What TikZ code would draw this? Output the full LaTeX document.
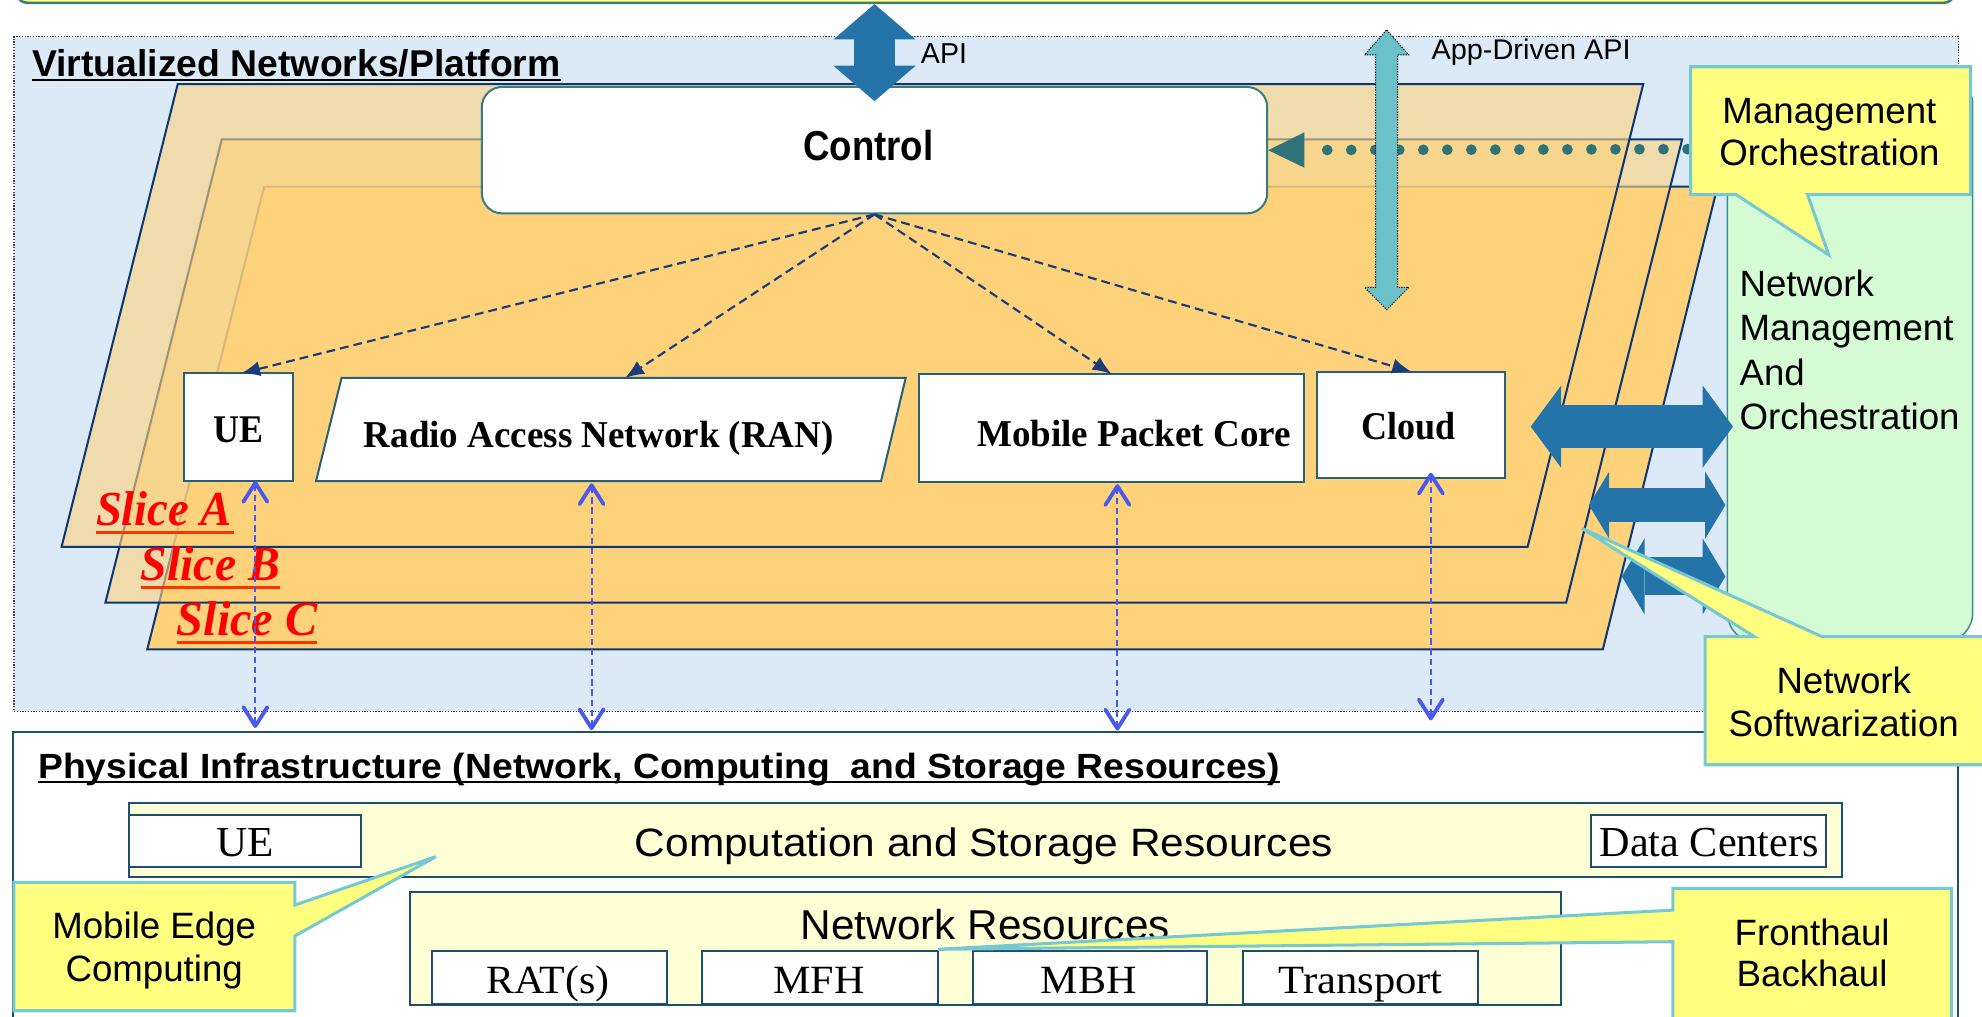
\documentclass[tikz,border=0pt]{standalone}
\usepackage{fontspec}
\setmainfont{Liberation Serif}
\setsansfont{Liberation Sans}
\usepackage{graphicx}
\usetikzlibrary{arrows.meta,calc}
\definecolor{bgblue}{HTML}{DBEAF6}
\definecolor{slicefill}{HTML}{FDD27A}
\definecolor{navy}{HTML}{0D3677}
\definecolor{boxline}{HTML}{26607A}
\definecolor{ctlline}{HTML}{3A7A82}
\definecolor{dashnavy}{HTML}{1C3B7A}
\definecolor{vblue}{HTML}{4859F0}
\definecolor{bigblue}{HTML}{2574A9}
\definecolor{appteal}{HTML}{6BC1C9}
\definecolor{dotteal}{HTML}{2F7378}
\definecolor{cyellow}{HTML}{FFFF80}
\definecolor{cline}{HTML}{76C8D2}
\definecolor{mint}{HTML}{D5FBD5}
\definecolor{mintline}{HTML}{3E8B8B}
\definecolor{paleyel}{HTML}{FFFFD6}
\definecolor{physline}{HTML}{1C4E6E}
\definecolor{slicered}{HTML}{FF0000}
\definecolor{ulred}{HTML}{FF3300}
\definecolor{topline}{HTML}{3D7A7A}
\newcommand\FW[2]{\resizebox{#1pt}{\height}{#2}}
\begin{document}
\begin{tikzpicture}[x=1pt,y=-1pt,
 txt/.style={inner sep=0pt,outer sep=0pt,anchor=base west},
 ctx/.style={inner sep=0pt,outer sep=0pt,anchor=base},
 sfb/.style={font=\fontsize{#1}{#1}\selectfont\sffamily\bfseries},
 sfr/.style={font=\fontsize{#1}{#1}\selectfont\sffamily},
 rmb/.style={font=\fontsize{#1}{#1}\selectfont\rmfamily\bfseries},
 rmr/.style={font=\fontsize{#1}{#1}\selectfont\rmfamily},
 rmbi/.style={font=\fontsize{#1}{#1}\selectfont\rmfamily\bfseries\itshape,text=slicered},
 box/.style={draw=boxline,line width=1.6pt,fill=white,inner sep=0pt,outer sep=0pt,anchor=north west},
 pbox/.style={draw=physline,line width=1.6pt,fill=white,inner sep=0pt,outer sep=0pt,anchor=north west},
 slice/.style={draw=navy,line width=1.6pt,fill=slicefill,line join=miter},
 callout/.style={draw=cline,line width=2.4pt,fill=cyellow,line join=miter},
 ctrlarrow/.style={draw=dashnavy,line width=1.7pt,dash pattern=on 7pt off 4pt,arrows={-Latex[length=15pt,width=12pt]}},
 vlink/.style={draw=vblue,line width=1.6pt,dash pattern=on 5pt off 3pt,arrows={Straight Barb[length=15pt,width=19pt,line width=3pt,round]-Straight Barb[length=15pt,width=19pt,line width=3pt,round]}},
 bigarr/.style n args={3}{draw=bigblue,line width=#1pt,arrows={Triangle[length=#3pt,width=#2pt,line width=0pt]-Triangle[length=#3pt,width=#2pt,line width=0pt]}},
 mgdots/.style={draw=dotteal,line width=8.5pt,line cap=round,dash pattern=on 0pt off 19pt,arrows={-Triangle[length=28.6pt,width=28pt,line width=0pt]}},
 appar/.style={fill=appteal,draw=black,line width=0.8pt,dash pattern=on 1pt off 1pt},
 ul/.style={draw=black,line width=2pt},
 ulr/.style={draw=ulred,line width=2.4pt}
]
\useasboundingbox (0,0) rectangle (1568,804);
\clip (0,0) rectangle (1568,804);
\fill[white] (0,0) rectangle (1568,804);

% top bar
\node[draw=topline,fill=cyellow,line width=2pt,rounded corners=8pt,minimum width=1532.6pt,minimum height=60pt,anchor=south west,inner sep=0pt] (topbar) at (12.4,3.2) {};

% virtualized platform
\node[draw=black!75,fill=bgblue,line width=0.9pt,dash pattern=on 1pt off 1.2pt,minimum width=1538.4pt,minimum height=534pt,anchor=north west,inner sep=0pt] (virt) at (10.6,28.5) {};

% slices
\filldraw[slice] (209,147.7) -- (1358.7,147.7) -- (1268,513.8) -- (116.5,513.8) -- cycle;
\filldraw[slice,fill opacity=0.6] (175.5,110.2) -- (1330.8,110.2) -- (1239,476.7) -- (83.4,476.7) -- cycle;
\filldraw[slice,fill opacity=0.6] (140.6,66.5) -- (1300,66.5) -- (1208.5,432.7) -- (48.7,432.7) -- cycle;

\node[txt,rmbi=38.7] (slA) at (76,416) {\FW{107.5}{Slice A}};
\draw[ulr] ($(slA.base west)+(0,5.6)$) -- ($(slA.base east)+(2,5.6)$);
\node[txt,rmbi=38.7] (slB) at (111.5,458.9) {\FW{110}{Slice B}};
\draw[ulr] ($(slB.base west)+(0,5.8)$) -- ($(slB.base east)+(0,5.8)$);
\node[txt,rmbi=38.7] (slC) at (140,502.4) {\FW{111}{Slice C}};
\draw[ulr] ($(slC.base west)+(0,5.8)$) -- ($(slC.base east)+(0,5.8)$);

% control and virtual functions
\node[draw=ctlline,fill=white,line width=1.6pt,rounded corners=16pt,minimum width=621.3pt,minimum height=100pt,anchor=north west,inner sep=0pt] (ctrl) at (380.4,68) {};
\node[txt,sfb=33.1] (ctrlT) at (635.5,126.6) {\FW{103}{Control}};

\node[box,minimum width=86.5pt,minimum height=85.1pt] (ue) at (145.5,295.4) {};
\node[txt,rmb=31] (ueT) at (168.7,350) {\FW{39.5}{UE}};
\filldraw[draw=boxline,fill=white,line width=1.6pt,line join=miter] (270.2,299) -- (716.5,299) -- (697,380.7) -- (250,380.7) -- cycle;
\coordinate (ranN) at (494.5,299);
\coordinate (ranS) at (468,382.4);
\node[txt,rmb=30] (ranT) at (287.8,354.2) {\FW{371.8}{Radio Access Network (RAN)}};
\node[box,minimum width=303.9pt,minimum height=85.4pt] (mpc) at (727.4,295.9) {};
\node[txt,rmb=30] (mpcT) at (773,352.9) {\FW{248.3}{Mobile Packet Core}};
\node[box,minimum width=149pt,minimum height=84.5pt] (cloud) at (1042,294) {};
\node[txt,rmb=31] (cloudT) at (1076.8,348) {\FW{74.5}{Cloud}};

\draw[ctrlarrow] (ctrl.south) -- ([xshift=2pt]ue.north);
\draw[ctrlarrow] (ctrl.south) -- (ranN);
\draw[ctrlarrow] (ctrl.south) -- (mpc.north);
\draw[ctrlarrow] (ctrl.south) -- (cloud.north);

% management and orchestration column
\node[draw=mintline,fill=mint,line width=1.2pt,rounded corners=24pt,minimum width=194pt,minimum height=450pt,anchor=north west,inner sep=0pt] (nmo) at (1366,58) {};
\node[txt,sfr=29] (nmo1) at (1376.2,234.7) {Network};
\node[txt,sfr=29] (nmo2) at (1376.2,269.5) {Management};
\node[txt,sfr=29] (nmo3) at (1376.2,304.6) {And};
\node[txt,sfr=29] (nmo4) at (1376.2,339.5) {Orchestration};

\coordinate (moW) at (1335,118);
\draw[mgdots] (moW) -- (ctrl.east);

% app-driven API
\coordinate (appT) at (1097,23.7);
\coordinate (appB) at (1097,245);
\draw[appar] (appT) -- ++(17.5,19.8) -- ++(-8.8,0) -- ($(appB)+(8.7,-17.7)$) -- ++(8.8,0) -- (appB) -- ++(-17.5,-17.7) -- ++(8.8,0) -- ($(appT)+(-8.7,19.8)$) -- ++(-8.8,0) -- cycle;
\node[txt,sfr=22.5] (appL) at (1132.5,47) {\FW{157.6}{App-Driven API}};

% API
\draw[bigarr={31.7}{65}{28}] (topbar.south -| ctrl.north) -- ([yshift=-12pt]ctrl.north);
\node[txt,sfr=22.8] (apiL) at (728.6,50.6) {\FW{36.4}{API}};

\node[txt,sfb=29.5] (virtT) at (25.6,60.6) {\FW{418}{Virtualized Networks/Platform}};
\draw[ul] ($(virtT.base west)+(0,2.8)$) -- ($(virtT.base east)+(0,2.8)$);

% big arrows to management
\coordinate (a1l) at (1211,337.5); \coordinate (a1r) at (1371,337.5);
\coordinate (a2l) at (1257,399.6); \coordinate (a2r) at (1365,399.6);
\coordinate (a3l) at (1283,456); \coordinate (a3r) at (1365,456);
\draw[bigarr={34}{65}{24}] (a1l) -- (a1r);
\draw[bigarr={26.7}{53}{16}] (a2l) -- (a2r);
\draw[bigarr={30}{60}{18}] (a3l) -- (a3r);

% management orchestration callout
\filldraw[callout] (1337.5,52.8) -- (1559,52.8) -- (1559,154) -- (1430,154) -- (1446.8,201.7) -- (1373.5,154) -- (1337.5,154) -- cycle;
\node[ctx,sfr=29] (mo1) at (1447.3,97.6) {Management};
\node[ctx,sfr=29] (mo2) at (1447.3,131) {Orchestration};

% physical infrastructure
\node[pbox,minimum width=1539.1pt,minimum height=260pt] (phys) at (9.9,578.9) {};
\node[txt,sfb=27.7] (physT) at (30.3,615.8) {\FW{982.3}{Physical Infrastructure (Network, Computing~ and Storage Resources)}};
\draw[ul] ($(physT.base west)+(0,2.8)$) -- ($(physT.base east)+(0,2.8)$);

\node[pbox,fill=paleyel,minimum width=1355.1pt,minimum height=58.5pt] (comp) at (101.9,635.5) {};
\node[pbox,minimum width=183.7pt,minimum height=40.8pt] (uep) at (101.9,644.8) {};
\node[txt,rmr=33.8] (uepT) at (171.6,677.7) {\FW{45.4}{UE}};
\node[txt,sfr=31.3] (compT) at (502.2,677.7) {\FW{552.3}{Computation and Storage Resources}};
\node[pbox,minimum width=185.8pt,minimum height=40.8pt] (dc) at (1259,644.8) {};
\node[txt,rmr=33.8] (dcT) at (1265.5,677.7) {\FW{173.4}{Data Centers}};

\node[pbox,fill=paleyel,minimum width=911.3pt,minimum height=89.6pt] (nr) at (324,705.4) {};
\node[txt,sfr=33] (nrT) at (633.4,743.6) {\FW{292}{Network Resources}};
\node[pbox,minimum width=185.7pt,minimum height=41.9pt] (rat) at (341.7,752.4) {};
\node[txt,rmr=31.7] (ratT) at (384.6,785.8) {\FW{97.4}{RAT(s)}};
\node[pbox,minimum width=186.8pt,minimum height=41.9pt] (mfh) at (555.2,752.4) {};
\node[txt,rmr=31.7] (mfhT) at (611.8,785.8) {\FW{72.2}{MFH}};
\node[pbox,minimum width=184.8pt,minimum height=41.9pt] (mbh) at (769.7,752.4) {};
\node[txt,rmr=31.7] (mbhT) at (823.3,785.8) {\FW{75.8}{MBH}};
\node[pbox,minimum width=185.7pt,minimum height=41.9pt] (tr) at (983.3,752.4) {};
\node[txt,rmr=31.7] (trT) at (1011.5,785.8) {\FW{129.8}{Transport}};

% vertical links virtual <-> physical
\draw[vlink] ([xshift=13.25pt]ue.south) -- ([xshift=13.25pt,yshift=3pt]ue.south |- phys.north);
\draw[vlink] (ranS) -- ([yshift=1.3pt]ranS |- phys.north);
\draw[vlink] ([xshift=4.65pt,yshift=-1.7pt]mpc.south) -- ([xshift=4.65pt,yshift=1pt]mpc.south |- phys.north);
\draw[vlink] ([xshift=15.5pt,yshift=4.5pt]cloud.south) -- ([xshift=15.5pt,yshift=9pt]cloud.south |- phys.north);

% network softwarization callout
\filldraw[callout] (1349,503.7) -- (1388,503.7) -- (1251.5,418) -- (1441.5,503.7) -- (1580,503.7) -- (1580,605) -- (1349,605) -- cycle;
\node[ctx,sfr=29] (ns1) at (1458.6,548.5) {Network};
\node[ctx,sfr=29] (ns2) at (1458.6,582.8) {Softwarization};

% mobile edge computing callout
\filldraw[callout] (11,698) -- (233.2,698) -- (233.2,716) -- (344.8,677.7) -- (233.2,740.5) -- (233.2,799.6) -- (11,799.6) -- cycle;
\node[ctx,sfr=29] (mec1) at (122,742.3) {Mobile Edge};
\node[ctx,sfr=29] (mec2) at (122,776.6) {Computing};

% fronthaul backhaul callout
\filldraw[callout] (1323.5,702.8) -- (1543.8,702.8) -- (1543.8,830) -- (1323.5,830) -- (1323.5,745) -- (742,751) -- (1323.5,720) -- cycle;
\node[ctx,sfr=29] (fb1) at (1433.6,747.6) {Fronthaul};
\node[ctx,sfr=29] (fb2) at (1433.6,780.6) {Backhaul};
\end{tikzpicture}
\end{document}
